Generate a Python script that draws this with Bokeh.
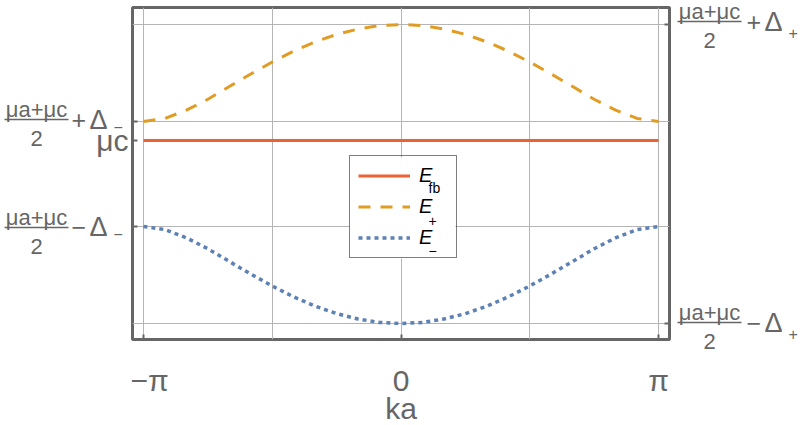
import math
from bokeh.plotting import figure
from bokeh.models import Range1d, FixedTicker, LinearAxis, Legend, LegendItem, Label, BoxAnnotation
from bokeh.layouts import row
from bokeh.embed import file_html
from bokeh.resources import INLINE
from bokeh.core.properties import value

# ---------------- data ----------------
ka_steps = [-12, -11, -10, -9, -8, -7, -6, -5, -4, -3, -2, -1, 0,
            1, 2, 3, 4, 5, 6, 7, 8, 9, 10, 11, 12]
ka = [s * math.pi / 12 for s in ka_steps]
E_plus = [0.351, 0.372, 0.427, 0.500, 0.585, 0.669, 0.749, 0.822, 0.884, 0.934, 0.970, 0.993, 1.000,
          0.993, 0.970, 0.934, 0.884, 0.822, 0.749, 0.669, 0.585, 0.500, 0.427, 0.372, 0.351]
E_minus = [-0.351, -0.372, -0.427, -0.500, -0.585, -0.669, -0.749, -0.822, -0.884, -0.934, -0.970, -0.993, -1.000,
           -0.993, -0.970, -0.934, -0.884, -0.822, -0.749, -0.669, -0.585, -0.500, -0.427, -0.372, -0.351]
mu_c = 0.224
E_fb = [mu_c] * len(ka)

x_ticks = [-math.pi, 0.0, math.pi]
x_tick_labels = ["−π", "0", "π"]
x_grid = [-math.pi, -math.pi / 2, 0.0, math.pi / 2, math.pi]
legend_subs = ["fb", "+", "−"]

# ---------------- styling ----------------
GRAY = "#666666"
GRID = "#b5b5b5"
FONT = "Liberation Sans"
C_FB, C_P, C_M = "#EB6235", "#E19C24", "#5E81B5"

FRAME_W, FRAME_H = 537, 332
TOP = 7
LEFT_W = 130
MAIN_BORDER = 2
RIGHT_W = 800 - LEFT_W - (FRAME_W + 2 * MAIN_BORDER)
PANEL_H = 425

kmin, kmax = min(ka), max(ka)
xpad = 0.0213 * (kmax - kmin)
x0, x1 = kmin - xpad, kmax + xpad
ylo, yhi = min(E_minus), max(E_plus)
span = yhi - ylo
y0 = ylo - 0.0535 * span
y1 = yhi + 0.0569 * span
upx = (y1 - y0) / FRAME_H  # data units per pixel

left_ticks = [E_minus[0], mu_c, E_plus[0]]
right_ticks = [min(E_minus), max(E_plus)]
y_grid = [min(E_minus), E_minus[0], E_plus[0], max(E_plus)]

# ---------------- main plot ----------------
p = figure(frame_width=FRAME_W, frame_height=FRAME_H,
           x_range=Range1d(x0, x1), y_range=Range1d(y0, y1),
           output_backend="svg", toolbar_location=None,
           min_border_left=MAIN_BORDER, min_border_right=MAIN_BORDER,
           min_border_top=TOP, min_border_bottom=0,
           background_fill_color="white", border_fill_color="white")
p.frame_align = False
p.outline_line_color = GRAY
p.outline_line_width = 3

p.xgrid.ticker = FixedTicker(ticks=x_grid)
p.ygrid.ticker = FixedTicker(ticks=y_grid)
for g in (p.xgrid, p.ygrid):
    g.grid_line_color = GRID
    g.grid_line_width = 1

xa = p.xaxis[0]
xa.ticker = FixedTicker(ticks=x_ticks)
xa.major_label_overrides = {t: s for t, s in zip(x_ticks, x_tick_labels)}
xa.axis_label = "ka"

ya = p.yaxis[0]
ya.ticker = FixedTicker(ticks=left_ticks)
ya.major_label_overrides = {t: "" for t in left_ticks}

ra = LinearAxis(ticker=FixedTicker(ticks=right_ticks))
ra.major_label_overrides = {t: "" for t in right_ticks}
p.add_layout(ra, "right")

for ax in (xa, ya, ra):
    ax.axis_line_color = None
    ax.major_tick_in = 5
    ax.major_tick_out = 0
    ax.major_tick_line_color = GRAY
    ax.major_tick_line_width = 2
    ax.minor_tick_line_color = None
    ax.major_label_text_color = GRAY
    ax.major_label_text_font = FONT
    ax.axis_label_text_color = GRAY
    ax.axis_label_text_font = FONT
    ax.axis_label_text_font_style = "normal"
for ax in (ya, ra):
    ax.major_label_standoff = 0
    ax.major_label_text_font_size = "1px"
xa.major_label_text_font_size = "30px"
xa.major_label_standoff = 24
xa.axis_label_text_font_size = "30px"
xa.axis_label_standoff = -8

FRAME_LEFT_IMG = LEFT_W + MAIN_BORDER
FRAME_TOP_IMG = TOP


def px2x(ix):
    return x0 + (ix - FRAME_LEFT_IMG) / FRAME_W * (x1 - x0)


def px2y(iy):
    return y1 - (iy - FRAME_TOP_IMG) * upx


# white backing of the legend box (covers the grid lines, like the reference)
p.add_layout(BoxAnnotation(left=px2x(349), right=px2x(455), top=px2y(157), bottom=px2y(258),
                           fill_color="white", fill_alpha=1.0, line_color=None, level="underlay"))

r_fb = p.line(ka, E_fb, line_color=C_FB, line_width=3)
r_p = p.line(ka, E_plus, line_color=C_P, line_width=3, line_dash="12 10")
r_m = p.line(ka, E_minus, line_color=C_M, line_width=3.5, line_dash="4 4")

legend = Legend(items=[LegendItem(label="E", renderers=[r_fb]),
                       LegendItem(label="E", renderers=[r_p]),
                       LegendItem(label="E", renderers=[r_m])],
                location=(217, 81), orientation="vertical",
                glyph_width=52, glyph_height=23, label_height=23, label_width=29,
                label_standoff=9, padding=8, spacing=8, margin=0,
                border_line_color="black", border_line_width=1,
                background_fill_alpha=0.0,
                label_text_font=FONT, label_text_font_style="italic",
                label_text_font_size="20px", label_text_color="black")
p.add_layout(legend)

for txt, ix, iy in zip(legend_subs, [428, 428, 428], [187, 220, 250]):
    p.add_layout(Label(x=px2x(ix), y=px2y(iy), text=txt, text_font=FONT,
                       text_font_size="14px", text_color="black", level="overlay",
                       text_align="left", text_baseline="alphabetic"))


# ---------------- side label panels ----------------
def panel(width):
    ytop = y1 + TOP * upx
    ybot = y1 - (PANEL_H - TOP) * upx
    f = figure(width=width, height=PANEL_H, x_range=Range1d(0, width), y_range=Range1d(ybot, ytop),
               x_axis_type=None, y_axis_type=None, output_backend="svg",
               toolbar_location=None, min_border=0, outline_line_color=None,
               background_fill_color="white", border_fill_color="white")
    f.frame_align = False
    f.grid.visible = False
    return f


def frac_label(f, xc, xop, xdelta, xsub, bar_y, op, sub, sub_dy):
    f.segment(x0=[xc - 32], x1=[xc + 32], y0=[bar_y], y1=[bar_y], line_color=GRAY, line_width=1.5)
    f.text(x=[xc], y=[bar_y + 10 * upx], text=["μa+μc"], text_align="center",
           text_baseline="alphabetic", text_font_size="22px", text_font=value(FONT), text_color=GRAY)
    f.text(x=[xc], y=[bar_y - 19 * upx], text=["2"], text_align="center",
           text_baseline="alphabetic", text_font_size="22px", text_font=value(FONT), text_color=GRAY)
    f.text(x=[xop], y=[bar_y], text=[op], text_align="left",
           text_baseline="middle", text_font_size="25px", text_font=value(FONT), text_color=GRAY)
    f.text(x=[xdelta], y=[bar_y], text=["Δ"], text_align="left",
           text_baseline="middle", text_font_size="27px", text_font=value(FONT), text_color=GRAY)
    f.text(x=[xsub], y=[bar_y - sub_dy * upx], text=[sub], text_align="left",
           text_baseline="middle", text_font_size="16px", text_font=value(FONT), text_color=GRAY)


left = panel(LEFT_W)
frac_label(left, 36, 71, 89, 113, left_ticks[2] + 2 * upx, "+", "−", 7)
frac_label(left, 36, 71, 89, 113, left_ticks[0] - 1 * upx, "−", "−", 7)
left.text(x=[128], y=[mu_c], text=["μc"], text_align="right", text_baseline="middle",
          text_font_size="30px", text_font=value(FONT), text_color=GRAY)

right = panel(RIGHT_W)
frac_label(right, 38, 75, 93, 117, right_ticks[1] + 3 * upx, "+", "+", 11)
frac_label(right, 38, 75, 93, 117, right_ticks[0] + 1 * upx, "−", "+", 11)

layout = row(left, p, right)
open("out.html", "w").write(file_html(layout, INLINE, title="bands"))
